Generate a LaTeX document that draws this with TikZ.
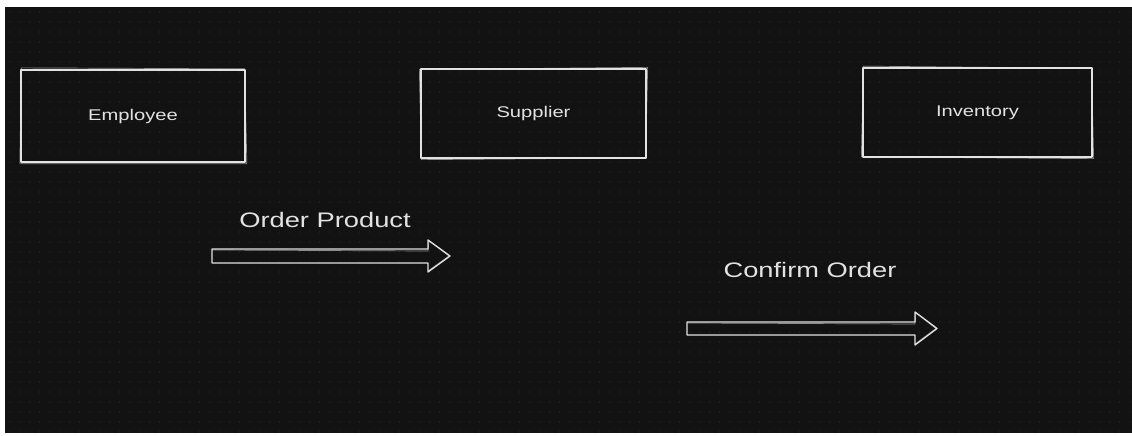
\documentclass[tikz,border=0pt]{standalone}
\usepackage{fontspec}
\setmainfont{Liberation Sans}
\newfontfamily\handfont[FakeStretch=1.3]{Liberation Sans}
\definecolor{canvas}{HTML}{121212}
\definecolor{dotc}{HTML}{1F1F1F}
\definecolor{ink}{HTML}{E2E2E2}
\begin{document}
\begin{tikzpicture}[x=1pt,y=-1pt,
  sketch/.style={draw=ink,line width=1.3pt,line join=round,line cap=round},
  sketchtwo/.style={draw=ink,line width=0.7pt,opacity=0.6,line join=round},
  entity/.style={sketch,minimum width=224pt,minimum height=92pt,inner sep=0pt,
    text=ink,font=\handfont\fontsize{15.5}{18}\selectfont},
  flowlabel/.style={text=ink,font=\handfont\fontsize{21}{24}\selectfont,inner sep=0pt}]
  % page and dark canvas
  \useasboundingbox (0,0) rectangle (1132,436);
  \fill[white] (0,0) rectangle (1132,436);
  \fill[canvas] (5,7) rectangle (1132,433);
  % faint dot grid
  \foreach \r in {12,22,...,432}
    \draw[dotc,line width=1.2pt,dash pattern=on 1.2pt off 8.8pt] (9,\r) -- (1132,\r);
  % entities
  \node[entity] (emp) at (133,116) {Employee};
  \node[entity,minimum width=225pt,minimum height=89pt] (sup) at (533.5,113.5) {Supplier};
  \node[entity,minimum width=229pt,minimum height=89pt] (inv) at (977.5,112.5) {Inventory};
  % second pencil pass on the boxes
  \draw[sketchtwo] ([shift={(1,-1.5)}]emp.north west) -- ([shift={(-1,-0.5)}]emp.north east)
    -- ([shift={(1.2,1)}]emp.south east) -- ([shift={(-0.5,1.2)}]emp.south west) -- cycle;
  \draw[sketchtwo] ([shift={(-1,1.2)}]sup.north west) -- ([shift={(1,-1)}]sup.north east)
    -- ([shift={(-1,-0.8)}]sup.south east) -- ([shift={(1,1)}]sup.south west) -- cycle;
  \draw[sketchtwo] ([shift={(1,-1.2)}]inv.north west) -- ([shift={(-1.2,1)}]inv.north east)
    -- ([shift={(1,1)}]inv.south east) -- ([shift={(-1,-0.8)}]inv.south west) -- cycle;
  % messages
  \node[flowlabel] (lorder) at (325,220) {Order Product};
  \coordinate (a1) at (212,256);
  \coordinate (b1) at (450,256);
  \draw[sketch] (a1) ++(0,-7) -- ++(216,0) -- ++(0,-9) -- (b1) -- ++(-22,16) -- ++(0,-9) -- ++(-216,0) -- cycle;
  \draw[sketchtwo] (a1) ++(1,-6) -- ++(215,1) -- ++(1,-10) -- ([shift={(-1,0)}]b1) -- ++(-21,15);
  \node[flowlabel] (lconfirm) at (810,270) {Confirm Order};
  \coordinate (a2) at (687,328.5);
  \coordinate (b2) at (937,328.5);
  \draw[sketch] (a2) ++(0,-6.5) -- ++(228,0) -- ++(0,-10) -- (b2) -- ++(-22,16.5) -- ++(0,-10) -- ++(-228,0) -- cycle;
  \draw[sketchtwo] (a2) ++(1,-5.5) -- ++(227,1) -- ++(1,-11) -- ([shift={(-1,0)}]b2) -- ++(-21,15.5);
\end{tikzpicture}
\end{document}
